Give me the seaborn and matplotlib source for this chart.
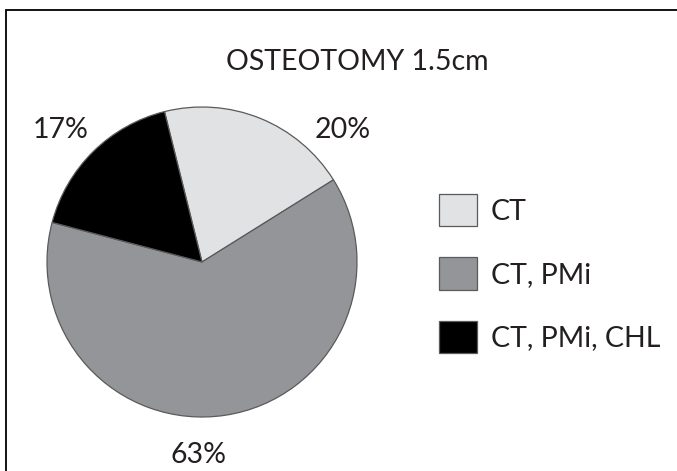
import numpy as np
import matplotlib
matplotlib.use("Agg")
import matplotlib.pyplot as plt
from matplotlib.patches import Rectangle
import seaborn as sns

# ------------------------------ dados ------------------------------
categorias = ["CT", "CT, PMi", "CT, PMi, CHL"]
percentuais = [20, 63, 17]
rotulos = ["20%", "63%", "17%"]
titulo = "OSTEOTOMY 1.5cm"

cores = ["#e1e2e4", "#939598", "#000000"]
# angulos (graus) e distancia onde ficam os rotulos de percentual
angulos_rotulos = [43, 269, 137]
dist_rotulos = 1.245

sns.set_theme(style="white")
plt.rcParams["font.family"] = ["Lato", "DejaVu Sans"]

W, H = 677, 471
fig = plt.figure(figsize=(W / 100, H / 100), dpi=100)

# pie: centro (202, 262) px, raio 155 px
cx, cy, R = 202, 262, 155
ax = fig.add_axes([(cx - R) / W, (H - cy - R) / H, 2 * R / W, 2 * R / H])
wedges, _ = ax.pie(percentuais, colors=cores, startangle=104, counterclock=False,
                   wedgeprops={"edgecolor": "#5a5a5a", "linewidth": 0.9})
ax.set_xlim(-1, 1)
ax.set_ylim(-1, 1)
ax.set_aspect("equal")
ax.axis("off")

for rot, ang in zip(rotulos, angulos_rotulos):
    a = np.deg2rad(ang)
    ax.text(dist_rotulos * np.cos(a), dist_rotulos * np.sin(a), rot,
            ha="center", va="center", fontsize=20.5, color="#231f20", clip_on=False)

fig.text(357 / W, 1 - 62 / H, titulo, ha="center", va="center", fontsize=20.5, color="#231f20")

fs = 20.5
fs_px = fs * 100 / 72
leg = fig.legend(wedges, categorias, loc="upper left",
                 bbox_to_anchor=(439 / W, 1 - 194 / H), frameon=False,
                 fontsize=fs, borderpad=0, borderaxespad=0,
                 handlelength=38 / fs_px, handleheight=39 / fs_px,
                 labelspacing=31 / fs_px, handletextpad=14 / fs_px)
for t in leg.get_texts():
    t.set_color("#231f20")

# moldura
fig.patches.append(Rectangle((6 / W, -0.1), 1.2, 1 - 10 / H + 0.1, transform=fig.transFigure,
                             fill=False, edgecolor="black", linewidth=1.3))

fig.savefig("out.png", dpi=100)
